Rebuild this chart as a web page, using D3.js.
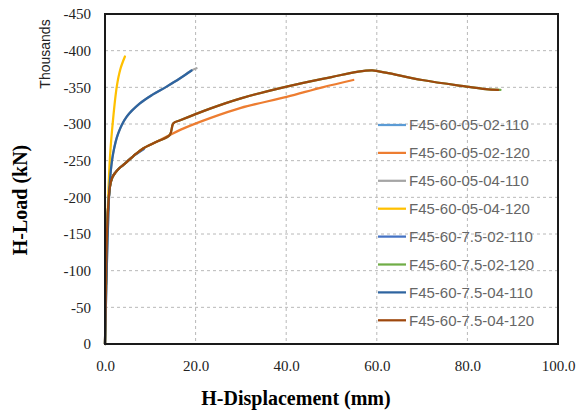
<!DOCTYPE html>
<html>
	<head>
		<meta charset="utf-8">
		<script src="https://cdnjs.cloudflare.com/ajax/libs/d3/7.8.5/d3.min.js"></script>
		<style>
			body { margin: 0; background: #fff; }
		</style>
	</head>
	<body>
		<div id="chart"></div>
		<script>
			// series names (legend order = draw order)
			var seriesNames = ["F45-60-05-02-110", "F45-60-05-02-120", "F45-60-05-04-110", "F45-60-05-04-120",
				"F45-60-7.5-02-110", "F45-60-7.5-02-120", "F45-60-7.5-04-110", "F45-60-7.5-04-120"];
			var seriesColors = ["#5B9BD5", "#ED7D31", "#A5A5A5", "#FFC000", "#4472C4", "#70AD47", "#2E64A0", "#9E480E"];

			// displacement (mm) and load (kN, negative) for each series
			var s1x = [0, 0.2, 0.4, 0.7, 1.1, 1.6, 2.2, 3.2, 4.4, 6.2, 8.3];
			var s1y = [0, -80, -142, -187, -215, -227, -233, -240, -246, -256, -265];
			var s2x = [0, 0.2, 0.4, 0.7, 1.1, 1.6, 2.2, 3.2, 4.4, 6.2, 8.5, 11.5, 14.3, 16.6, 23.2, 30, 40.1, 48, 54.8];
			var s2y = [0, -80, -142, -187, -215, -227, -233, -240, -246, -256, -267, -276, -285, -292, -308, -322, -337, -350, -360];
			var s3x = [0, 0.3, 0.6, 1.1, 1.8, 2.9, 4.8, 7.7, 10.5, 13.6, 16.5, 19.1, 20.2];
			var s3y = [0, -80, -150, -224, -260, -287, -310, -328, -340, -351, -362, -373, -376];
			var s4x = [0, 0.3, 0.6, 1.1, 1.7, 2.6, 3.4, 4.4];
			var s4y = [0, -100, -180, -255, -301, -351, -375, -392];
			var s5x = [0, 0.2, 0.4, 0.7, 1.1, 1.6, 2.2, 3.2, 4.4, 6.2, 8.6];
			var s5y = [0, -80, -142, -187, -215, -227, -233, -240, -246, -256, -266];
			var s6x = [0, 0.2, 0.4, 0.7, 1.1, 1.6, 2.2, 3.2, 4.4, 6.2, 8.5, 11.5, 14.3, 15.1, 16.6, 23.2, 30, 40.1, 50, 55.6, 59, 62, 70, 79.8, 84, 87.3];
			var s6y = [0, -80, -142, -187, -215, -227, -233, -240, -246, -256, -267, -276, -285, -301, -305, -321, -335, -351, -364, -371, -373, -370, -360, -351, -347.5, -346.5];
			var s7x = [0, 0.3, 0.6, 1.1, 1.8, 2.9, 4.8, 7.7, 10.5, 13.6, 16.5, 19.1];
			var s7y = [0, -80, -150, -224, -260, -287, -310, -328, -340, -351, -362, -373];
			var s8x = [0, 0.2, 0.4, 0.7, 1.1, 1.6, 2.2, 3.2, 4.4, 6.2, 8.5, 11.5, 14.3, 15.1, 16.6, 23.2, 30, 40.1, 50, 55.6, 59, 62, 70, 79.8, 84, 86.8];
			var s8y = [0, -80, -142, -187, -215, -227, -233, -240, -246, -256, -267, -276, -285, -301, -305, -321, -335, -351, -364, -371, -373, -370, -360, -351, -347.5, -346.4];

			var xTicks = [0, 20, 40, 60, 80, 100];
			var yTicks = [0, -50, -100, -150, -200, -250, -300, -350, -400, -450];

			var allX = [s1x, s2x, s3x, s4x, s5x, s6x, s7x, s8x];
			var allY = [s1y, s2y, s3y, s4y, s5y, s6y, s7y, s8y];
			var series = seriesNames.map(function(name, i) {
				return { name: name, color: seriesColors[i], values: allX[i].map(function(x, j) { return [x, allY[i][j]]; }) };
			});

			var W = 578, H = 414;
			var margin = { top: 14, right: 20, bottom: 70, left: 105 };
			var width = 558 - margin.left, height = 344 - margin.top;

			var svg = d3.select("#chart").append("svg")
				.attr("width", W)
				.attr("height", H);

			var g = svg.append("g")
				.attr("transform", "translate(" + margin.left + "," + margin.top + ")");

			var x = d3.scaleLinear().domain([0, 100]).range([0, width]);
			var y = d3.scaleLinear().domain([0, -450]).range([height, 0]);

			//gridlines
			g.append("g").selectAll("line")
				.data(xTicks.slice(1, -1))
				.enter().append("line")
				.attr("x1", function(d) { return x(d); })
				.attr("x2", function(d) { return x(d); })
				.attr("y1", 0).attr("y2", height)
				.style("stroke", "#b8b8b8").style("stroke-width", 1).style("stroke-dasharray", "3,3");
			g.append("g").selectAll("line")
				.data(yTicks.slice(1, -1))
				.enter().append("line")
				.attr("y1", function(d) { return y(d); })
				.attr("y2", function(d) { return y(d); })
				.attr("x1", 0).attr("x2", width)
				.style("stroke", "#b8b8b8").style("stroke-width", 1).style("stroke-dasharray", "3,3");

			//axes
			var xAxis = g.append("g")
				.attr("transform", "translate(0," + height + ")")
				.call(d3.axisBottom(x).tickValues(xTicks).tickFormat(function(d) { return d.toFixed(1); }).tickSize(0).tickPadding(16));
			xAxis.select(".domain").remove();

			// plain hyphen for negative labels, like the original
			var yAxis = g.append("g")
				.call(d3.axisLeft(y).tickValues(yTicks).tickFormat(function(d) { return String(d); }).tickSize(0).tickPadding(14));
			yAxis.select(".domain").remove();

			g.selectAll(".tick text")
				.style("font-family", "'Liberation Serif', 'Times New Roman', serif")
				.style("font-size", "15px")
				.style("fill", "#222");

			//lines
			var line = d3.line()
				.x(function(d) { return x(d[0]); })
				.y(function(d) { return y(d[1]); })
				.curve(d3.curveCatmullRom.alpha(0.5));

			g.append("g").selectAll("path")
				.data(series)
				.enter().append("path")
				.attr("d", function(d) { return line(d.values); })
				.style("fill", "none")
				.style("stroke", function(d) { return d.color; })
				.style("stroke-width", 2.25)
				.style("stroke-linecap", "round");

			//frame
			g.append("rect")
				.attr("x", 0).attr("y", 0)
				.attr("width", width).attr("height", height)
				.style("fill", "none").style("stroke", "#1a1a1a").style("stroke-width", 2);

			//legend
			var legend = g.append("g").selectAll("g")
				.data(series)
				.enter().append("g")
				.attr("transform", function(d, i) { return "translate(" + (378 - margin.left) + "," + (125 - margin.top + i * 27.9) + ")"; });
			legend.append("line")
				.attr("x1", 0).attr("x2", 28)
				.style("stroke", function(d) { return d.color; })
				.style("stroke-width", 2.25);
			legend.append("text")
				.attr("x", 31).attr("dy", "0.36em")
				.text(function(d) { return d.name; })
				.style("font-family", "'Liberation Sans', Arial, sans-serif")
				.style("font-size", "15px")
				.style("fill", "#666");

			//axis titles
			svg.append("text")
				.attr("transform", "translate(27,200) rotate(-90)")
				.attr("text-anchor", "middle")
				.text("H-Load (kN)")
				.style("font-family", "'Liberation Serif', serif")
				.style("font-weight", "bold")
				.style("font-size", "20px");

			svg.append("text")
				.attr("transform", "translate(50,54) rotate(-90)")
				.attr("text-anchor", "middle")
				.text("Thousands")
				.style("font-family", "'Liberation Sans', Arial, sans-serif")
				.style("font-size", "14px")
				.style("fill", "#222");

			svg.append("text")
				.attr("x", 296).attr("y", 405)
				.attr("text-anchor", "middle")
				.text("H-Displacement (mm)")
				.style("font-family", "'Liberation Serif', serif")
				.style("font-weight", "bold")
				.style("font-size", "20px");
		</script>
	</body>
</html>
